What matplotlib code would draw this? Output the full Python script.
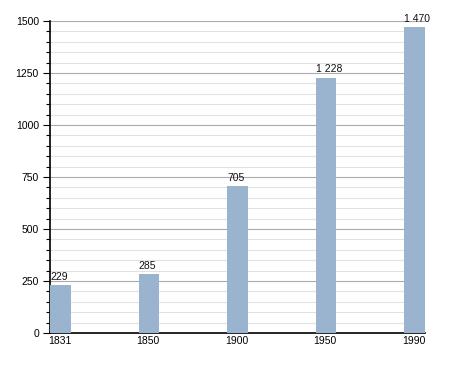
import matplotlib
matplotlib.use('Agg')
import matplotlib.pyplot as plt
import matplotlib.transforms as mtransforms
from matplotlib.ticker import MultipleLocator

years = ['1831', '1850', '1900', '1950', '1990']
population = [229, 285, 705, 1228, 1470]
value_labels = ['229', '285', '705', '1 228', '1 470']

plt.rcParams['font.family'] = ['Liberation Sans', 'DejaVu Sans']
plt.rcParams['font.size'] = 7

fig = plt.figure(figsize=(4.55, 3.73), dpi=100)
ax = fig.add_axes([50 / 455, 40 / 373, 375 / 455, 312 / 373])

bar_w = 0.237
pos = list(range(len(years)))
ax.bar(pos, population, width=bar_w, align='edge', color='#9ab3cf', zorder=3)

for i, v in enumerate(population):
    ax.text(pos[i], v + 15, value_labels[i], ha='left', va='bottom', fontsize=7.5, color='#111111')

ax.set_xlim(0, len(years) - 1 + bar_w)
ax.set_ylim(0, 1500)
ax.set_xticks(pos)
ax.set_xticklabels(years, ha='left')
ax.tick_params(axis='x', length=0, pad=2, labelsize=7.5)
# labels sit a touch left of the bar edge
shift = mtransforms.ScaledTranslation(-2 / 100, 0, fig.dpi_scale_trans)
for lbl in ax.get_xticklabels():
    lbl.set_transform(lbl.get_transform() + shift)

ax.yaxis.set_major_locator(MultipleLocator(250))
ax.yaxis.set_minor_locator(MultipleLocator(50))
ax.tick_params(axis='y', which='major', length=5, width=0.8, labelsize=7.5, pad=3)
ax.tick_params(axis='y', which='minor', length=3, width=0.8)

ax.grid(axis='y', which='major', color='#aaaaaa', linewidth=0.8, zorder=1)
ax.grid(axis='y', which='minor', color='#e2e2e2', linewidth=0.8, zorder=0)

for s in ['top', 'right']:
    ax.spines[s].set_visible(False)
ax.spines['left'].set_linewidth(1.2)
ax.spines['bottom'].set_linewidth(1.2)

fig.savefig('out.png', dpi=100)
